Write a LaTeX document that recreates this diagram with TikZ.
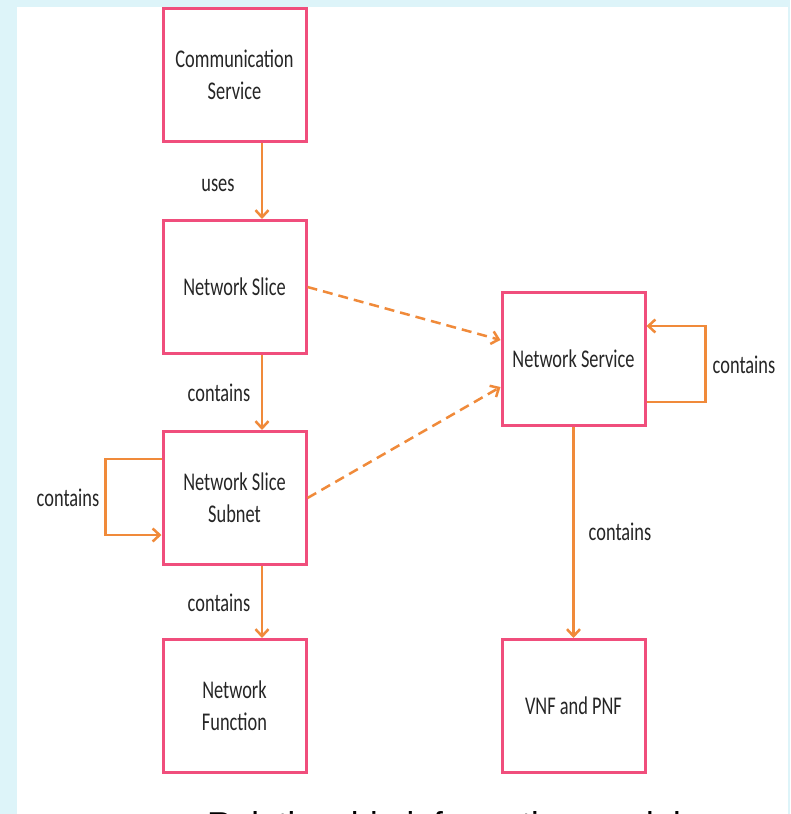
\documentclass[tikz,border=0pt]{standalone}
\usepackage{fontspec}
\setmainfont{Carlito}
\newfontfamily\capfont{Liberation Sans}
\usetikzlibrary{arrows.meta}
\definecolor{boxpink}{HTML}{F04E7C}
\definecolor{arrorange}{HTML}{F08A3A}
\definecolor{bgblue}{HTML}{DDF4F9}
\definecolor{txt}{HTML}{262626}
\newcommand{\sq}[1]{\scalebox{0.72}[1]{#1}}
\tikzset{
  entity/.style={draw=boxpink, line width=3pt, fill=white, minimum width=143pt,
    minimum height=133pt, inner sep=0pt, align=center,
    font=\fontsize{25.5}{32}\selectfont, text=txt},
  rel/.style={draw=arrorange, line width=2.5pt, -{Straight Barb[length=7pt,width=13pt,line width=2.5pt]}},
  reldash/.style={rel, dash pattern=on 10pt off 6pt},
  lbl/.style={font=\fontsize{25.5}{30}\selectfont, text=txt, inner sep=0pt}
}
\begin{document}
\begin{tikzpicture}[x=1pt,y=-1pt]
\useasboundingbox (0,0) rectangle (790,814);
\fill[bgblue] (0,0) rectangle (790,814);
\fill[white] (17,7) rectangle (788,814);

\node[entity] (cs)  at (234.5,74.5) {\sq{Communication}\\\sq{Service}};
\node[entity] (ns)  at (234.5,287)  {\sq{Network Slice}};
\node[entity] (nss) at (234.5,498)  {\sq{Network Slice}\\\sq{Subnet}};
\node[entity] (nf)  at (234.5,706)  {\sq{Network}\\\sq{Function}};
\node[entity] (nsv) at (573.5,359)  {\sq{Network Service}};
\node[entity] (vnf) at (573.5,706)  {\sq{VNF and PNF}};

\coordinate (ax) at (262,0);
\draw[rel] (cs.south -| ax) -- (ns.north -| ax);
\draw[rel] (ns.south -| ax) -- (nss.north -| ax);
\draw[rel] (nss.south -| ax) -- (nf.north -| ax);
\draw[rel] (nsv.south) -- (vnf.north);

\draw[rel] ([yshift=39pt]nss.west) -- ++(-56,0) |- ([yshift=-37pt]nss.west);
\draw[rel] ([yshift=-43pt]nsv.east) -- ++(59,0) |- ([yshift=33pt]nsv.east);

\draw[reldash] (ns.east) -- ([yshift=19pt]nsv.west);
\draw[reldash] (nss.east) -- ([yshift=-28pt]nsv.west);

\node[lbl] (l1) at (218,185) {\sq{uses}};
\node[lbl] (l2) at (219,393) {\sq{contains}};
\node[lbl] (l3) at (219,603) {\sq{contains}};
\node[lbl] (l4) at (620,532) {\sq{contains}};
\node[lbl] (l5) at (68,498)  {\sq{contains}};
\node[lbl] (l6) at (744,365) {\sq{contains}};

\begin{scope}
\clip (0,0) rectangle (790,814);
\node[anchor=base west, inner sep=0pt, font=\capfont\fontsize{34.5}{40}\selectfont] (cap) at (207,836) {Relationship information model};
\end{scope}
\end{tikzpicture}
\end{document}
